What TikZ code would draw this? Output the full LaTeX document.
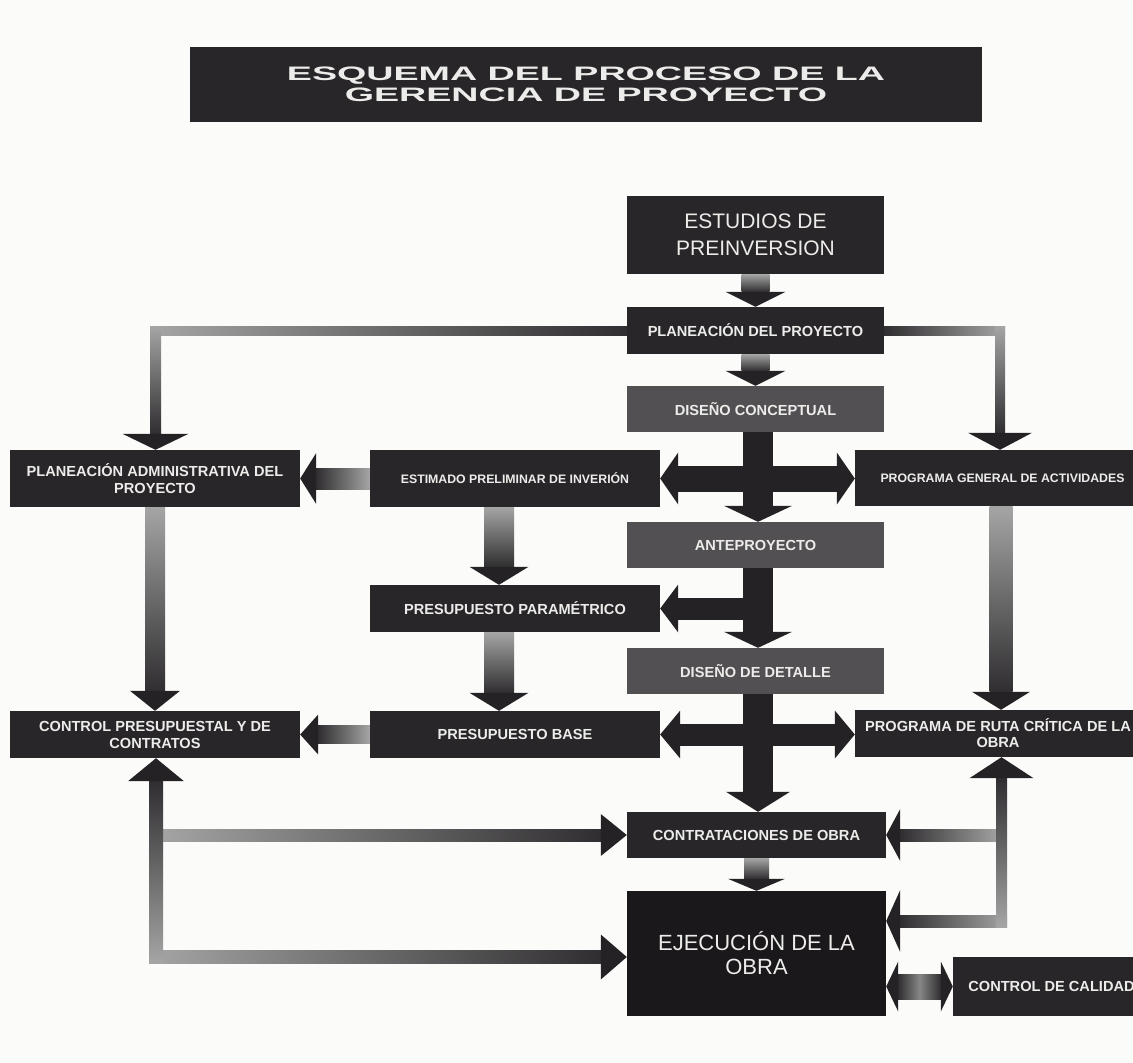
\documentclass[tikz,border=0pt]{standalone}
\usepackage{graphicx}
\usepackage{fontspec}
\setmainfont{Liberation Sans}
\usetikzlibrary{calc}

\definecolor{paper}{RGB}{251,251,249}
\definecolor{boxdark}{RGB}{40,38,40}
\definecolor{boxgray}{RGB}{82,80,82}
\definecolor{boxblack}{RGB}{26,24,26}
\definecolor{ink}{RGB}{236,236,234}
\definecolor{headcol}{RGB}{36,34,36}
\definecolor{gl}{RGB}{165,165,165}
\definecolor{gd}{RGB}{48,46,48}
\definecolor{gm}{RGB}{135,135,135}

% Block arrows: #1 tail, #2 tip, #3 shaft half width, #4 head half width,
% #5 head length, #6 shaft fill/shading
\newcommand\blkD[6]{%
  \path[#6] let \p1=(#1), \p2=(#2) in (\x1-#3,\y1) rectangle (\x1+#3,\y2+#5);
  \fill[headcol] let \p1=(#1), \p2=(#2) in
    (\x1-#4,\y2+#5) -- (\x1+#4,\y2+#5) -- (\x1,\y2) -- cycle;}
\newcommand\blkU[6]{%
  \path[#6] let \p1=(#1), \p2=(#2) in (\x1-#3,\y1) rectangle (\x1+#3,\y2-#5);
  \fill[headcol] let \p1=(#1), \p2=(#2) in
    (\x1-#4,\y2-#5) -- (\x1+#4,\y2-#5) -- (\x1,\y2) -- cycle;}
\newcommand\blkL[6]{%
  \path[#6] let \p1=(#1), \p2=(#2) in (\x1,\y1-#3) rectangle (\x2+#5,\y1+#3);
  \fill[headcol] let \p1=(#1), \p2=(#2) in
    (\x2+#5,\y1-#4) -- (\x2+#5,\y1+#4) -- (\x2,\y1) -- cycle;}
\newcommand\blkR[6]{%
  \path[#6] let \p1=(#1), \p2=(#2) in (\x1,\y1-#3) rectangle (\x2-#5,\y1+#3);
  \fill[headcol] let \p1=(#1), \p2=(#2) in
    (\x2-#5,\y1-#4) -- (\x2-#5,\y1+#4) -- (\x2,\y1) -- cycle;}
% double-headed: #1 left tip, #2 right tip
\newcommand\blkLR[6]{%
  \path[#6] let \p1=(#1), \p2=(#2) in (\x1+#5,\y1-#3) rectangle (\x2-#5,\y1+#3);
  \fill[headcol] let \p1=(#1), \p2=(#2) in
    (\x1+#5,\y1-#4) -- (\x1+#5,\y1+#4) -- (\x1,\y1) -- cycle
    (\x2-#5,\y1-#4) -- (\x2-#5,\y1+#4) -- (\x2,\y1) -- cycle;}
% plain horizontal bar: #1 start, #2 end, #3 half thickness, #4 shading
\newcommand\barH[4]{%
  \path[#4] let \p1=(#1), \p2=(#2) in (\x1,\y1-#3) rectangle (\x2,\y1+#3);}

\tikzset{
  box/.style={fill=boxdark, text=ink, inner sep=0pt, align=center,
    font=\bfseries\fontsize{14.6}{17}\selectfont},
  graybox/.style={box, fill=boxgray},
  size/.style 2 args={minimum width=#1pt, minimum height=#2pt},
  small/.style={font=\bfseries\fontsize{12.3}{14}\selectfont},
  big/.style={font=\fontsize{21}{27}\selectfont},
  litTop/.style={top color=gl, bottom color=gd},
  litBottom/.style={top color=gd, bottom color=gl},
  litLeft/.style={left color=gl, right color=gd},
  litRight/.style={left color=gd, right color=gl},
  litMid/.style={left color=gd, right color=gd, middle color=gm},
  darkshaft/.style={fill=headcol}
}

\begin{document}
\begin{tikzpicture}[x=1pt, y=-1pt]
\useasboundingbox (0,0) rectangle (1133,1063);
\fill[paper] (0,0) rectangle (1133,1063);
\clip (0,0) rectangle (1133,1063);

% title banner
\node[box, size={792}{75}, font=\bfseries\fontsize{19.5}{21}\selectfont] (title) at (586,84)
  {\scalebox{1.93}[1]{ESQUEMA DEL PROCESO DE LA}\\\scalebox{1.93}[1]{GERENCIA DE PROYECTO}};

% central column
\node[box, big, size={257}{78}] (estu) at (755.5,235) {ESTUDIOS DE\\PREINVERSION};
\node[box, size={257}{47}] (plan) at (755.5,330.5) {PLANEACIÓN DEL PROYECTO};
\node[graybox, size={257}{46}] (dcon) at (755.5,409) {DISEÑO CONCEPTUAL};
\node[graybox, size={257}{46}] (ante) at (755.5,545) {ANTEPROYECTO};
\node[graybox, size={257}{46}] (ddet) at (755.5,671) {DISEÑO DE DETALLE};
\node[box, size={259}{46}] (contr) at (756.5,835) {CONTRATACIONES DE OBRA};
\node[box, fill=boxblack, size={259}{125}, font=\fontsize{22}{24}\selectfont] (ejec) at (756.5,953.5)
  {EJECUCIÓN DE LA\\OBRA};

% left columns
\node[box, size={290}{57}] (padm) at (155,478.5) {PLANEACIÓN ADMINISTRATIVA DEL\\PROYECTO};
\node[box, small, size={290}{57}] (est) at (515,478.5) {ESTIMADO PRELIMINAR DE INVERIÓN};
\node[box, size={290}{47}] (ppar) at (515,608.5) {PRESUPUESTO PARAMÉTRICO};
\node[box, size={290}{47}] (cpres) at (155,734.5) {CONTROL PRESUPUESTAL Y DE\\CONTRATOS};
\node[box, size={290}{47}] (pbase) at (515,734.5) {PRESUPUESTO BASE};

% right column
\node[box, small, size={295}{56}] (pga) at (1002.5,478) {PROGRAMA GENERAL DE ACTIVIDADES};
\node[box, size={286}{47}, font=\bfseries\fontsize{14.6}{16}\selectfont] (ruta) at (998,733.5)
  {PROGRAMA DE RUTA CRÍTICA DE LA\\OBRA};
\node[box, size={197}{59}] (cal) at (1051.5,986.5) {CONTROL DE CALIDAD};

% guide lines for the vertical flows
\coordinate (spine) at (758,0);
\coordinate (colA) at (499,0);
\coordinate (colB) at (1001,0);

% pre-investment to planning to conceptual design
\blkD{estu.south}{plan.north}{14pt}{30pt}{15pt}{litTop}
\blkD{plan.south}{dcon.north}{14pt}{30pt}{15pt}{litTop}

% planning branches, left and right
\coordinate (tlH) at (150,330.5);
\coordinate (tlV) at (155.5,326);
\barH{plan.west}{tlH}{4.5pt}{litLeft}
\blkD{tlV}{padm.north}{5.5pt}{33pt}{16pt}{litTop}
\coordinate (trH) at (1005,330.5);
\coordinate (trV) at (1000,326);
\barH{plan.east}{trH}{4.5pt}{litRight}
\blkD{trV}{pga.north}{5pt}{32pt}{17pt}{litTop}

% design spine
\blkD{spine |- dcon.south}{spine |- ante.north}{15pt}{34pt}{16pt}{darkshaft}
\blkLR{est.east}{pga.west}{13pt}{26pt}{18pt}{darkshaft}
\blkD{spine |- ante.south}{spine |- ddet.north}{15pt}{34pt}{16pt}{darkshaft}
\blkL{spine |- ppar.east}{ppar.east}{11pt}{24pt}{18pt}{darkshaft}
\blkD{spine |- ddet.south}{spine |- contr.north}{15pt}{32pt}{20pt}{darkshaft}
\blkLR{pbase.east}{ruta.west}{11pt}{24pt}{20pt}{darkshaft}

% budget flow
\blkL{est.west}{padm.east}{10.5pt}{25.5pt}{16pt}{litRight}
\blkD{colA |- est.south}{colA |- ppar.north}{15pt}{29.5pt}{18pt}{litTop}
\blkD{colA |- ppar.south}{colA |- pbase.north}{15pt}{29.5pt}{18pt}{litTop}
\blkD{padm.south}{cpres.north}{10pt}{25pt}{20pt}{litTop}
\blkL{pbase.west}{cpres.east}{9pt}{20pt}{18pt}{litRight}
\blkD{colB |- pga.south}{colB |- ruta.north}{11.5pt}{29pt}{18pt}{litTop}

% contracting to execution
\blkD{contr.south}{ejec.north}{12.5pt}{28.5pt}{12pt}{litTop}

% budget control loop
\coordinate (blA) at (156,835);
\coordinate (blB) at (149,957);
\coordinate (blC) at (156,963);
\blkR{blA}{contr.west}{6pt}{21pt}{26pt}{litLeft}
\blkR{blB}{ejec.west}{6.5pt}{22.5pt}{26pt}{litLeft}
\blkU{blC}{cpres.south}{7pt}{28pt}{23pt}{litBottom}

% schedule loop
\coordinate (brA) at (1001.5,835);
\coordinate (brB) at (1007,921);
\coordinate (brC) at (1001.5,927);
\blkL{brA}{contr.east}{6pt}{26pt}{14pt}{litRight}
\blkL{brB}{ejec.east}{6pt}{31pt}{14pt}{litRight}
\blkU{brC}{ruta.south}{5.5pt}{32pt}{21pt}{litBottom}

% quality control
\blkLR{ejec.east |- cal.west}{cal.west}{12.5pt}{25pt}{12pt}{litMid}
\end{tikzpicture}
\end{document}
